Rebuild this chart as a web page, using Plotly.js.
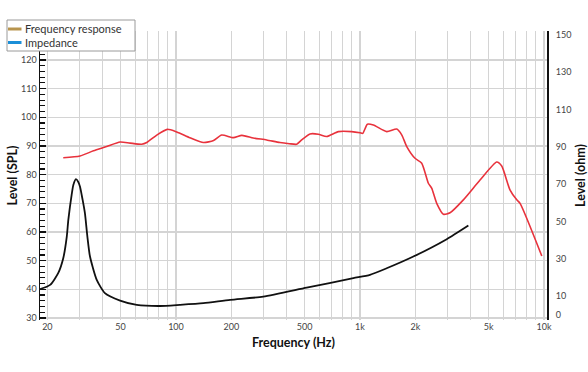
<!DOCTYPE html>
<html>
<head>
<meta charset="utf-8">
<script src="https://cdn.plot.ly/plotly-3.0.1.min.js"></script>
<style>html,body{margin:0;padding:0;background:#fff;}#chart{width:588px;height:372px;}</style>
</head>
<body>
<div id="chart"></div>
<script>
// Frequency response (left axis, dB SPL)
const freqFR = [24.4, 30.1, 35.6, 42, 49.7, 56.3, 65.1, 69.4, 78.6, 89.7, 101, 119, 141, 160, 177, 205, 228, 263, 311, 367, 413, 453, 482, 535, 594, 659, 763, 901, 1000, 1035, 1097, 1183, 1397, 1585, 1688, 1795, 1991, 2165, 2352, 2452, 2612, 2840, 3085, 3645, 4490, 5530, 5890, 6530, 7110, 7410, 9730];
const splFR = [85.9, 86.5, 88.3, 89.8, 91.4, 91.0, 90.6, 91.2, 93.8, 95.8, 94.9, 92.9, 91.2, 91.9, 93.8, 92.9, 93.7, 92.8, 92.1, 91.2, 90.8, 90.6, 92.1, 94.2, 94.1, 93.3, 95.0, 95.0, 94.6, 94.4, 97.6, 97.3, 95.0, 95.9, 93.8, 89.8, 85.7, 84.0, 77.0, 75.3, 70.0, 66.2, 66.7, 71.2, 78.1, 84.4, 83.0, 74.7, 71.2, 70.0, 51.6];

// Impedance (right axis, ohm)
const freqZ = [18.24, 20.7, 22.9, 24.4, 25.5, 26.0, 27.1, 27.7, 28.6, 29.4, 30.1, 31.1, 32.0, 33.0, 34.1, 37.1, 41.1, 49.7, 61.2, 81.9, 105, 141, 197, 298, 513, 920, 1133, 1396, 1950, 2960, 3880];
const ohmZ = [13.8, 16.1, 22.4, 30.4, 42.0, 50.9, 64.3, 69.7, 72.7, 71.4, 68.7, 61.6, 54.5, 42.0, 31.3, 18.8, 11.7, 7.7, 5.4, 4.8, 5.4, 6.3, 8.1, 9.8, 14.6, 19.7, 21.5, 25.0, 31.3, 40.6, 47.9];

// Axis ticks
const xGridVals = [20,30,40,50,60,70,80,90,100,200,300,400,500,600,700,800,900,1000,2000,3000,4000,5000,6000,7000,8000,9000,10000];
const xGridText = ['20','','','50','','','','','100','200','','','500','','','','','1k','2k','','','5k','','','','','10k'];
const splTicks = [30,40,50,60,70,80,90,100,110,120];
const ohmTicks = [0,10,30,50,70,90,110,130,150];

// Legend entries
const legendNames = ['Frequency response', 'Impedance'];
const legendColors = ['#b8954e', '#1b8fd8'];

const W = 588, H = 372, L = 40, R = 41, T = 31, B = 52;
const pw = W - L - R, ph = H - T - B;
const px2x = p => (p - L) / pw;
const py2y = p => (H - B - p) / ph;

const traces = [
  {x: freqFR, y: splFR, type: 'scatter', mode: 'lines', name: legendNames[0],
   line: {color: '#e8323c', width: 1.6, shape: 'spline', smoothing: 0.6}, yaxis: 'y', showlegend: false},
  {x: freqZ, y: ohmZ, type: 'scatter', mode: 'lines', name: legendNames[1],
   line: {color: '#111111', width: 1.8, shape: 'spline', smoothing: 0.6}, yaxis: 'y2', showlegend: false}
];

const shapes = [
  {type: 'rect', xref: 'paper', yref: 'paper', x0: px2x(7), x1: px2x(135), y0: py2y(51), y1: py2y(20),
   fillcolor: '#ffffff', line: {color: '#9a9a9a', width: 1}, layer: 'above'}
];
const annotations = [];
const legendY = [29, 42.5];
legendNames.forEach((n, i) => {
  shapes.push({type: 'line', xref: 'paper', yref: 'paper', x0: px2x(8), x1: px2x(21.5),
    y0: py2y(legendY[i]), y1: py2y(legendY[i]), line: {color: legendColors[i], width: 3}, layer: 'above'});
  annotations.push({xref: 'paper', yref: 'paper', x: px2x(23), y: py2y(legendY[i]), xanchor: 'left', yanchor: 'middle',
    text: n, showarrow: false, font: {size: 11, color: '#333'}});
});

const layout = {
  width: W, height: H,
  margin: {l: L, r: R, t: T, b: B, pad: 0},
  paper_bgcolor: '#ffffff', plot_bgcolor: '#ffffff',
  showlegend: false,
  font: {family: 'Lato, "Open Sans", sans-serif', color: '#333'},
  xaxis: {
    type: 'log', range: [Math.log10(18.24), Math.log10(10380)],
    tickmode: 'array', tickvals: xGridVals, ticktext: xGridText,
    showgrid: true, gridcolor: '#d4d4d4', gridwidth: 1.3,
    ticks: '', tickfont: {size: 9, color: '#444'},
    zeroline: false, showline: false, automargin: false,
    title: {text: 'Frequency (Hz)', font: {size: 12.5, color: '#111', weight: 'bold'}, standoff: 7}
  },
  yaxis: {
    range: [29.3, 130.1],
    tickmode: 'array', tickvals: splTicks,
    showgrid: true, gridcolor: '#d4d4d4', gridwidth: 1.3,
    ticks: 'inside', ticklen: 6, tickwidth: 1.5, tickcolor: '#111',
    minor: {tickmode: 'linear', tick0: 0, dtick: 2, ticks: 'inside', ticklen: 5, tickwidth: 1.2, tickcolor: '#111', showgrid: false},
    showline: true, linecolor: '#111', linewidth: 1.5,
    tickfont: {size: 9, color: '#444'}, zeroline: false, automargin: false,
    title: {text: 'Level (SPL)', font: {size: 12.5, color: '#111', weight: 'bold'}, standoff: 0}
  },
  yaxis2: {
    overlaying: 'y', side: 'right', range: [-2.7, 152.1],
    tickmode: 'array', tickvals: ohmTicks,
    showgrid: false, ticks: '', ticklen: 0, tickcolor: 'rgba(0,0,0,0)',
    showline: true, linecolor: '#111', linewidth: 2,
    ticklabelstandoff: 5,
    tickfont: {size: 9, color: '#444'}, zeroline: false, automargin: false,
    title: {text: 'Level (ohm)', font: {size: 12.5, color: '#111', weight: 'bold'}, standoff: 6}
  },
  shapes: shapes,
  annotations: annotations
};

Plotly.newPlot('chart', traces, layout, {displayModeBar: false, staticPlot: true});
</script>
</body>
</html>
